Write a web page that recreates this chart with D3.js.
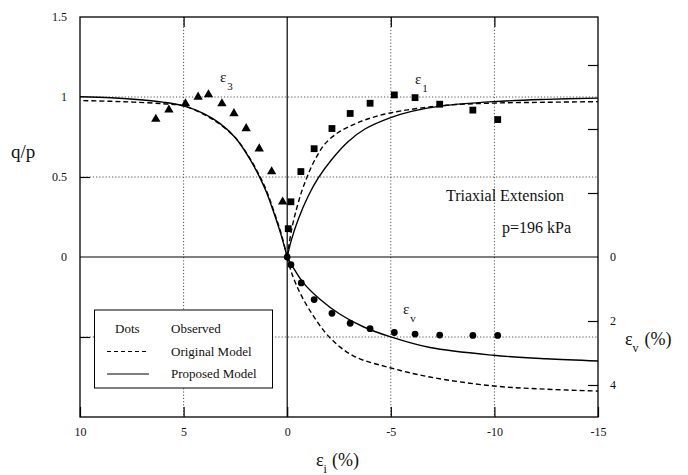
<!DOCTYPE html>
<html>
<head>
<meta charset="utf-8">
<script src="https://cdn.jsdelivr.net/npm/d3@7"></script>
<style>
    body { margin: 0; background: #fff; }
    svg text { font-family: "Liberation Serif", "DejaVu Serif", serif; fill: #111; }
</style>
</head>
<body>
<div id="chart"></div>
<script>
// observed points, epsilon_3 side (triangles)
const triStrain = [6.34, 5.71, 4.91, 4.30, 3.80, 3.15, 2.57, 1.98, 1.35, 0.75, 0.22];
const triQ = [0.862, 0.920, 0.959, 1.000, 1.015, 0.959, 0.897, 0.803, 0.677, 0.534, 0.345];

// observed points, epsilon_1 side (squares)
const sqStrain = [-0.05, -0.18, -0.66, -1.30, -2.16, -3.04, -4.00, -5.17, -6.17, -7.36, -8.96, -10.16];
const sqQ = [0.177, 0.345, 0.534, 0.677, 0.803, 0.897, 0.961, 1.013, 0.996, 0.955, 0.918, 0.859];

// observed volumetric strain (dots)
const dotStrain = [0, -0.18, -0.68, -1.30, -2.16, -3.04, -4.00, -5.17, -6.17, -7.36, -8.96, -10.16];
const dotEv = [0, 0.24, 0.81, 1.33, 1.76, 2.07, 2.24, 2.36, 2.41, 2.44, 2.45, 2.45];

// model curves, q/p vs epsilon_3
const e3Strain = [0, 0.3, 0.68, 1.0, 1.35, 1.8, 2.5, 3.25, 4.0, 5.0, 6.0, 7.4, 8.5, 10];
const e3Proposed = [0, 0.14, 0.29, 0.405, 0.504, 0.612, 0.745, 0.835, 0.895, 0.945, 0.968, 0.986, 0.995, 1.002];
const e3Original = [0, 0.15, 0.30, 0.415, 0.512, 0.617, 0.745, 0.83, 0.89, 0.945, 0.958, 0.968, 0.973, 0.978];

// model curves, q/p vs epsilon_1
const e1PropStrain = [0, -0.21, -0.53, -1.01, -1.50, -2.14, -2.95, -3.75, -4.96, -6.0, -7.38, -9.95, -12.5, -15];
const e1Proposed = [0, 0.11, 0.235, 0.38, 0.494, 0.608, 0.722, 0.80, 0.87, 0.91, 0.943, 0.971, 0.985, 0.993];
const e1OrigStrain = [0, -0.21, -0.45, -0.70, -0.94, -1.18, -1.50, -1.82, -2.46, -3.11, -3.75, -4.96, -7.38, -9.95, -12.5, -15];
const e1Original = [0, 0.17, 0.30, 0.41, 0.494, 0.567, 0.645, 0.707, 0.778, 0.822, 0.857, 0.9, 0.945, 0.962, 0.967, 0.971];

// model curves, epsilon_v vs epsilon_1
const evPropStrain = [0, -0.29, -0.77, -1.58, -2.55, -3.67, -4.96, -6.89, -9.95, -12.5, -15];
const evProposed = [0, 0.33, 0.80, 1.32, 1.79, 2.18, 2.49, 2.83, 3.07, 3.18, 3.25];
const evOrigStrain = [0, -0.21, -0.61, -1.26, -2.06, -3.19, -4.96, -6.89, -9.95, -12.5, -15];
const evOriginal = [0, 0.49, 1.11, 1.84, 2.52, 3.09, 3.46, 3.75, 4.03, 4.13, 4.19];

// axes
const xTicks = [10, 5, 0, -5, -10, -15];
const qTickLabels = [0, 0.5, 1, 1.5];
const qGrid = [1, 0.5, -0.5];
const xGrid = [5, -5, -10];
const evTicks = [-6, -4, -2, 2, 4];
const evTickLabels = [0, 2, 4];

const width = 688;
const height = 475;
const plot = { left: 80, right: 598, top: 17, bottom: 417 };

const svg = d3.select('#chart')
    .append('svg')
    .attr('width', width)
    .attr('height', height);

const x = d3.scaleLinear().domain([10, -15]).range([plot.left, plot.right]);
const yQ = d3.scaleLinear().domain([-1, 1.5]).range([plot.bottom, plot.top]);
const yEv = d3.scaleLinear().domain([-7.5, 5]).range([plot.top, plot.bottom]);

// dotted grid
svg.append('g')
    .selectAll('line')
    .data(xGrid)
    .enter()
    .append('line')
    .attr('x1', d => x(d)).attr('x2', d => x(d))
    .attr('y1', plot.top).attr('y2', plot.bottom)
    .attr('stroke', '#444').attr('stroke-width', 0.9)
    .attr('stroke-dasharray', '1.2,2');

svg.append('g')
    .selectAll('line')
    .data(qGrid)
    .enter()
    .append('line')
    .attr('x1', plot.left).attr('x2', plot.right)
    .attr('y1', d => yQ(d)).attr('y2', d => yQ(d))
    .attr('stroke', '#444').attr('stroke-width', 0.9)
    .attr('stroke-dasharray', '1.2,2');

// solid zero lines
svg.append('line')
    .attr('x1', x(0)).attr('x2', x(0))
    .attr('y1', plot.top).attr('y2', plot.bottom)
    .attr('stroke', '#000').attr('stroke-width', 1.2);
svg.append('line')
    .attr('x1', plot.left).attr('x2', plot.right)
    .attr('y1', yQ(0)).attr('y2', yQ(0))
    .attr('stroke', '#000').attr('stroke-width', 1.2);

// frame
svg.append('rect')
    .attr('x', plot.left).attr('y', plot.top)
    .attr('width', plot.right - plot.left)
    .attr('height', plot.bottom - plot.top)
    .attr('fill', 'none').attr('stroke', '#000').attr('stroke-width', 1.3);

// axes with inward ticks (plain hyphen for negatives, as in the print)
const plainNum = d => String(d);

svg.append('g')
    .attr('transform', `translate(0, ${plot.bottom})`)
    .call(d3.axisBottom(x).tickValues(xTicks).tickSize(-10).tickPadding(10).tickFormat(plainNum));

svg.append('g')
    .attr('transform', `translate(0, ${plot.top})`)
    .call(d3.axisTop(x).tickValues(xGrid).tickSize(-10).tickFormat(''));

svg.append('g')
    .attr('transform', `translate(${plot.left}, 0)`)
    .call(d3.axisLeft(yQ).tickValues([0.5, -0.5]).tickSize(-10).tickFormat(''));

svg.append('g')
    .attr('transform', `translate(${plot.left}, 0)`)
    .call(d3.axisLeft(yQ).tickValues(qTickLabels).tickSize(0).tickPadding(13).tickFormat(plainNum));

svg.append('g')
    .attr('transform', `translate(${plot.right}, 0)`)
    .call(d3.axisRight(yEv).tickValues(evTicks).tickSize(-10).tickFormat(''));

svg.append('g')
    .attr('transform', `translate(${plot.right}, 0)`)
    .call(d3.axisRight(yEv).tickValues(evTickLabels).tickSize(0).tickPadding(12).tickFormat(plainNum));

svg.selectAll('.domain').remove();
svg.selectAll('.tick line').attr('stroke', '#000').attr('stroke-width', 1.2);
svg.selectAll('.tick text')
    .style('font-family', '"Liberation Serif", serif')
    .style('font-size', '12px')
    .attr('fill', '#111');

// model curves
const curve = d3.curveCatmullRom.alpha(0.5);
const lineQ = d3.line().x(d => x(d[0])).y(d => yQ(d[1])).curve(curve);
const lineEv = d3.line().x(d => x(d[0])).y(d => yEv(d[1])).curve(curve);

const curves = [
    { strain: e3Strain, values: e3Proposed, line: lineQ, dash: null },
    { strain: e3Strain, values: e3Original, line: lineQ, dash: '5,3' },
    { strain: e1PropStrain, values: e1Proposed, line: lineQ, dash: null },
    { strain: e1OrigStrain, values: e1Original, line: lineQ, dash: '5,3' },
    { strain: evPropStrain, values: evProposed, line: lineEv, dash: null },
    { strain: evOrigStrain, values: evOriginal, line: lineEv, dash: '5,3' }
];

curves.forEach(c => {
    svg.append('path')
        .datum(d3.zip(c.strain, c.values))
        .attr('d', c.line)
        .attr('fill', 'none')
        .attr('stroke', '#000')
        .attr('stroke-width', 1.4)
        .attr('stroke-dasharray', c.dash);
});

// observed markers
svg.append('g')
    .selectAll('path')
    .data(d3.zip(triStrain, triQ))
    .enter()
    .append('path')
    .attr('transform', d => `translate(${x(d[0])}, ${yQ(d[1])})`)
    .attr('d', d3.symbol().type(d3.symbolTriangle).size(38))
    .attr('fill', '#000');

svg.append('g')
    .selectAll('rect')
    .data(d3.zip(sqStrain, sqQ))
    .enter()
    .append('rect')
    .attr('x', d => x(d[0]) - 3.4)
    .attr('y', d => yQ(d[1]) - 3.4)
    .attr('width', 6.8).attr('height', 6.8)
    .attr('fill', '#000');

svg.append('g')
    .selectAll('circle')
    .data(d3.zip(dotStrain, dotEv))
    .enter()
    .append('circle')
    .attr('cx', d => x(d[0]))
    .attr('cy', d => yEv(d[1]))
    .attr('r', 3.4)
    .attr('fill', '#000');

// labels with subscripts
function epsLabel(px, py, sub, size, subSize, dx, dy) {
    const t = svg.append('text')
        .attr('x', px).attr('y', py)
        .style('font-size', size + 'px');
    t.append('tspan').text('ε');
    t.append('tspan')
        .attr('dx', dx).attr('dy', dy)
        .style('font-size', subSize + 'px')
        .text(sub);
    return t;
}

epsLabel(220, 82, '3', 15, 11, 1, 8);
epsLabel(415, 84, '1', 15, 11, 1, 8);
epsLabel(403, 314, 'v', 15, 11, 1, 8);

// axis titles
svg.append('text')
    .attr('x', 11).attr('y', 158)
    .style('font-size', '19px')
    .text('q/p');

const xTitle = epsLabel(316, 466, 'i', 18, 12, 0, 7);
xTitle.append('tspan').attr('dy', -7).attr('dx', 5).style('font-size', '18px').text('(%)');

const evTitle = epsLabel(625, 345, 'v', 18, 12, 0, 7);
evTitle.append('tspan').attr('dy', -7).attr('dx', 6).style('font-size', '18px').text('(%)');

// annotation
svg.append('text')
    .attr('x', 446).attr('y', 201)
    .style('font-size', '16px')
    .text('Triaxial Extension');
svg.append('text')
    .attr('x', 502).attr('y', 233)
    .style('font-size', '16px')
    .text('p=196 kPa');

// legend
const legend = svg.append('g');
legend.append('rect')
    .attr('x', 94.5).attr('y', 310)
    .attr('width', 178).attr('height', 78)
    .attr('fill', '#fff').attr('stroke', '#000').attr('stroke-width', 1);

const legendRows = [
    { key: 'Dots', label: 'Observed', dash: undefined },
    { key: null, label: 'Original Model', dash: '4,3' },
    { key: null, label: 'Proposed Model', dash: null }
];

legendRows.forEach((r, i) => {
    const ly = 333 + i * 22.5;
    if (r.key) {
        legend.append('text')
            .attr('x', 115).attr('y', ly)
            .style('font-size', '13px')
            .text(r.key);
    } else {
        legend.append('line')
            .attr('x1', 107).attr('x2', 149)
            .attr('y1', ly - 4).attr('y2', ly - 4)
            .attr('stroke', '#000').attr('stroke-width', 1.1)
            .attr('stroke-dasharray', r.dash);
    }
    legend.append('text')
        .attr('x', 171).attr('y', ly)
        .style('font-size', '13px')
        .text(r.label);
});
</script>
</body>
</html>
